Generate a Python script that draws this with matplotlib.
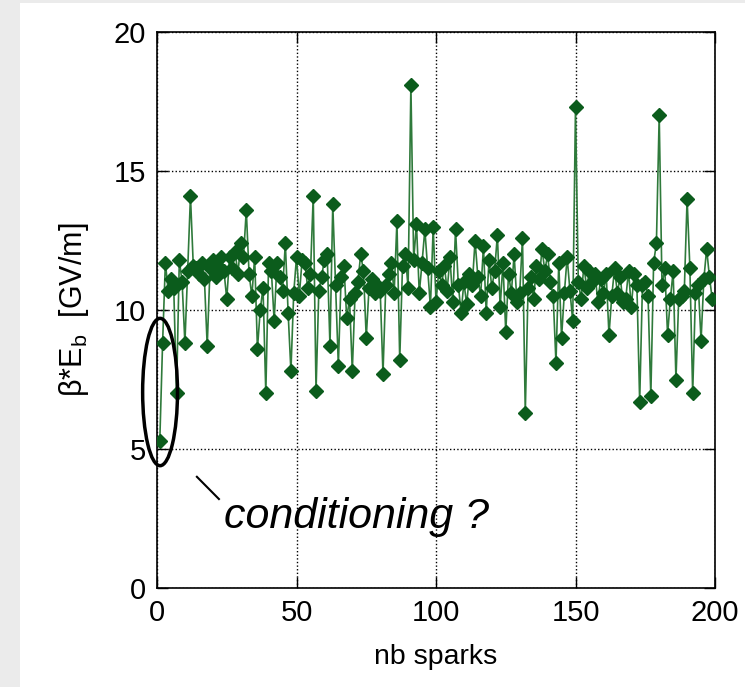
import matplotlib
matplotlib.use("Agg")
import matplotlib.pyplot as plt
from matplotlib.patches import Ellipse, Rectangle

plt.rcParams['font.family'] = ['Liberation Sans', 'DejaVu Sans']

# beta*E_b per spark (spark 1 .. 199)
beta_eb = [
    5.3, 8.8, 11.7, 10.7, 11.1, 10.8, 7.0, 11.8, 11.0, 8.8,
    11.4, 14.1, 11.6, 11.5, 11.3, 11.7, 11.1, 8.7, 11.5, 11.8,
    11.2, 11.6, 11.9, 11.4, 10.4, 11.9, 11.5, 12.1, 11.3, 12.4,
    11.9, 13.6, 11.3, 10.5, 11.9, 8.6, 10.0, 10.8, 7.0, 11.7,
    11.4, 9.6, 11.7, 11.2, 10.7, 12.4, 9.9, 7.8, 10.6, 11.9,
    10.5, 11.8, 11.7, 10.8, 11.3, 14.1, 7.1, 10.7, 11.2, 11.8,
    12.0, 8.7, 13.8, 10.9, 8.0, 11.2, 11.6, 9.7, 10.4, 7.8,
    10.6, 11.0, 12.0, 11.4, 9.0, 10.8, 11.1, 10.6, 10.9, 10.7,
    7.7, 10.9, 11.3, 11.7, 10.6, 13.2, 8.2, 11.6, 12.0, 10.8,
    18.1, 11.8, 13.1, 10.6, 11.7, 12.9, 11.5, 10.1, 13.0, 10.3,
    11.4, 10.9, 11.6, 10.7, 11.9, 10.3, 12.9, 10.9, 9.9, 11.0,
    10.2, 11.3, 10.9, 12.5, 11.2, 10.5, 12.3, 9.9, 11.8, 10.8,
    11.4, 12.7, 10.1, 11.7, 9.2, 11.3, 10.6, 12.0, 10.3, 10.6,
    12.6, 6.3, 10.8, 11.2, 10.4, 11.6, 11.1, 12.2, 11.4, 12.0,
    11.0, 10.5, 8.1, 11.7, 9.0, 10.6, 11.9, 10.7, 9.6, 17.3,
    11.0, 10.4, 11.6, 10.8, 11.4, 11.0, 11.3, 10.3, 11.1, 10.6,
    11.3, 9.1, 10.5, 11.5, 10.6, 11.2, 10.3, 10.4, 11.4, 10.1,
    11.3, 10.9, 6.7, 10.9, 11.0, 10.5, 6.9, 11.7, 12.4, 17.0,
    10.9, 11.5, 9.1, 10.4, 11.4, 7.5, 10.4, 10.5, 10.7, 14.0,
    11.5, 7.0, 10.6, 10.9, 8.9, 11.1, 12.2, 11.2, 10.4,
]
sparks = list(range(1, len(beta_eb) + 1))

x_ticks = [0, 50, 100, 150, 200]
y_ticks = [0, 5, 10, 15, 20]

fig = plt.figure(figsize=(7.45, 6.87), dpi=100, facecolor='#ebebeb')
# white slide panel behind the plot
fig.patches.append(Rectangle((20 / 745, 0), 1, 1 - 3 / 687, transform=fig.transFigure,
                             facecolor='white', edgecolor='none', zorder=-10))

ax = fig.add_axes([157 / 745, 1 - 588 / 687, 558 / 745, 556 / 687])
ax.plot(sparks, beta_eb, color='#2f7a3b', lw=1.2, marker='D', ms=6.8,
        mfc='#0b5c1c', mec='#0b5c1c', zorder=3)

ax.set_xlim(0, 200)
ax.set_ylim(0, 20)
ax.set_xticks(x_ticks)
ax.set_yticks(y_ticks)
ax.tick_params(direction='in', length=8, width=1, top=True, right=True,
               labelsize=21, pad=8)
ax.grid(True, color='black', linestyle=(0, (1, 1.6)), linewidth=1)
for s in ax.spines.values():
    s.set_linewidth(1.2)

ax.set_xlabel('nb sparks', fontsize=20.5, labelpad=12)
ax.set_ylabel('β*E$_{\\mathregular{b}}$  [GV/m]', fontsize=22, labelpad=16)

# conditioning annotation
ax.add_patch(Ellipse((1.1, 7.05), 12.5, 5.3, fill=False, edgecolor='black',
                     lw=2.5, clip_on=False, zorder=4))
ax.plot([14.3, 22.2], [4.0, 3.2], color='black', lw=1.5, zorder=4)
ax.text(24, 2.55, 'conditioning ?', fontsize=31, style='italic',
        ha='left', va='center')

fig.savefig('out.png', dpi=100, facecolor=fig.get_facecolor())
